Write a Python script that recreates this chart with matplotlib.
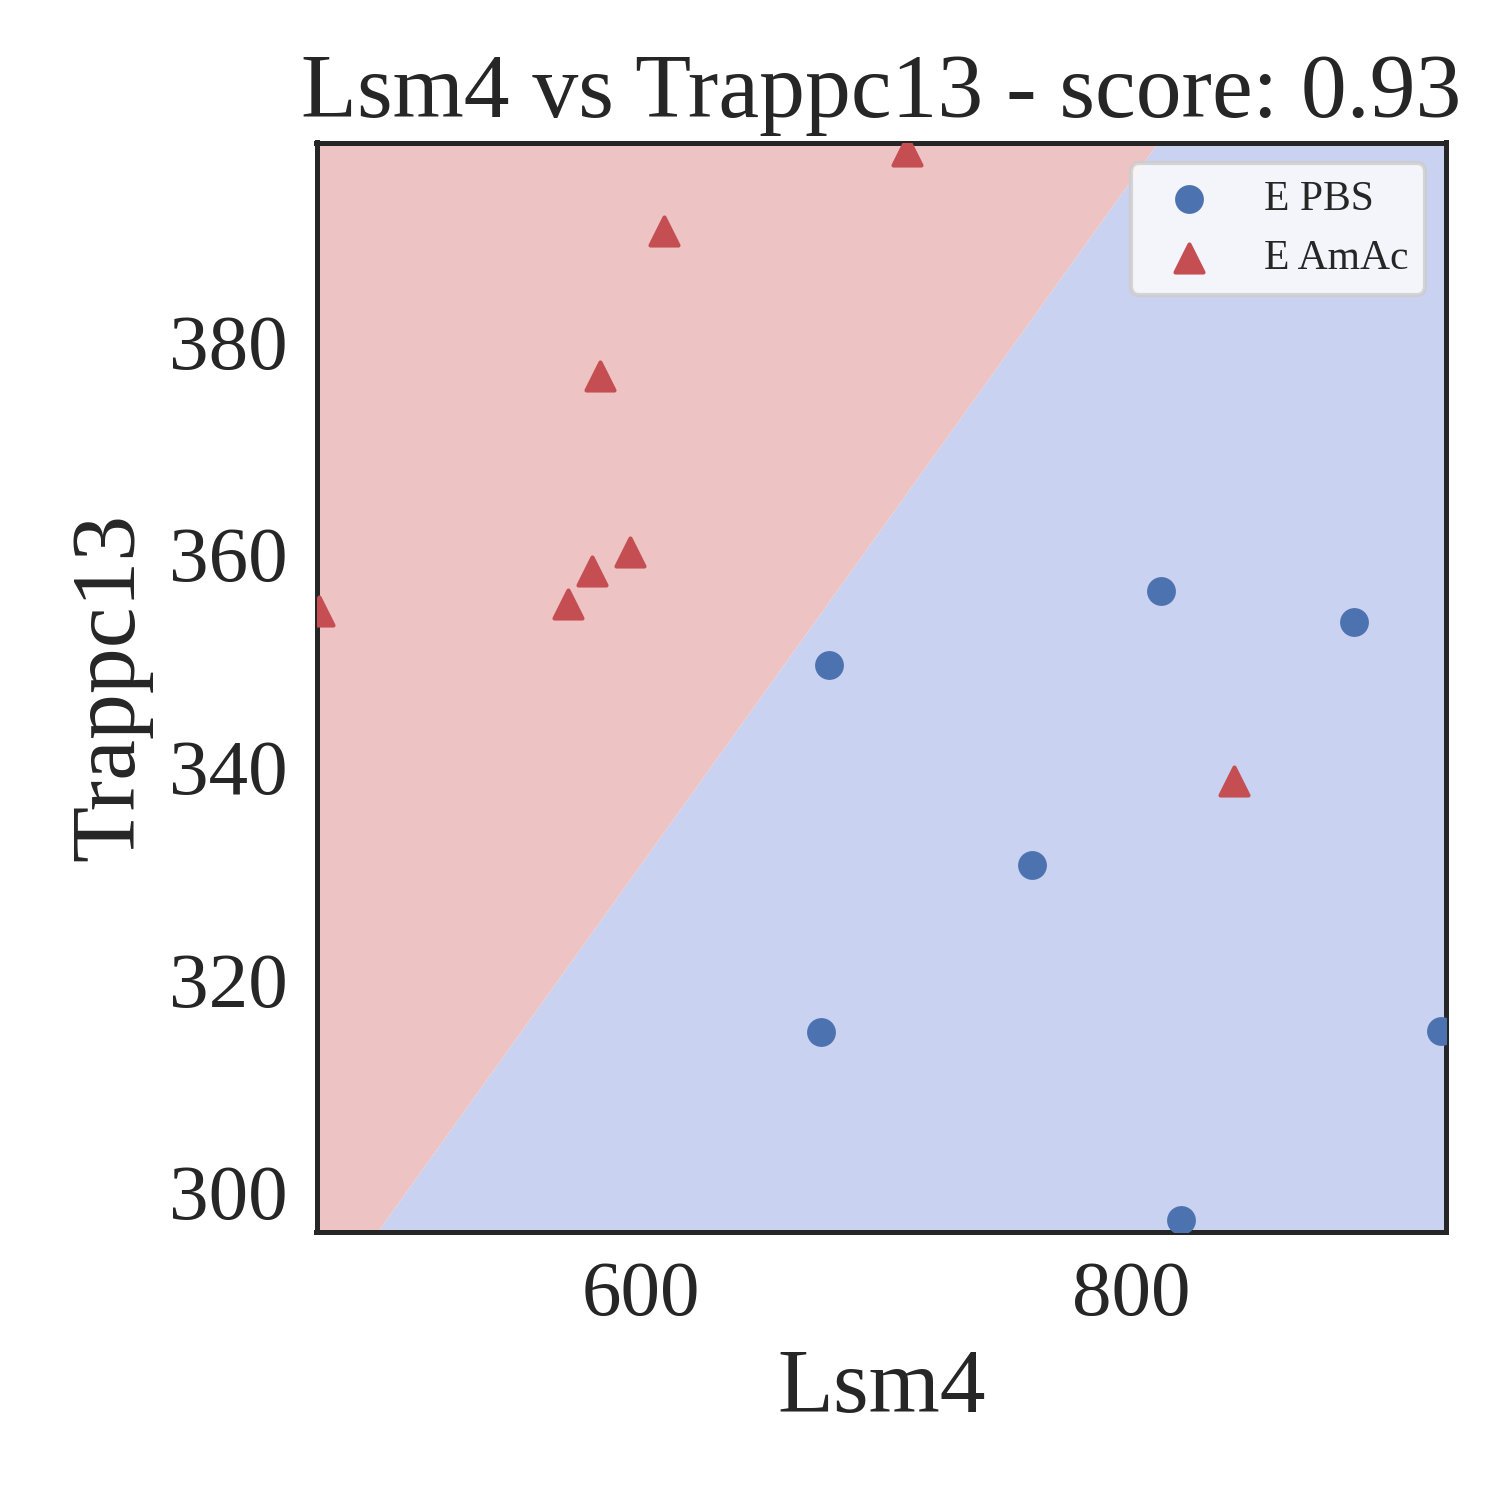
import numpy as np
import matplotlib
matplotlib.use("Agg")
import matplotlib.pyplot as plt
import seaborn as sns

sns.set_style("white")
plt.rcParams['font.family'] = ['Liberation Serif', 'DejaVu Serif']

# points
pbs_x = [676.6, 811.8, 890.4, 759.3, 673.3, 925.9, 820.0]
pbs_y = [349.6, 356.5, 353.6, 330.8, 315.1, 315.2, 297.4]
amac_x = [708.4, 609.4, 583.3, 595.5, 580.4, 570.3, 469.2, 841.5]
amac_y = [397.9, 390.4, 376.7, 360.2, 358.4, 355.3, 354.6, 338.7]

# decision boundary end points
bound_x = [492.8, 810.6]
bound_y = [296.3, 398.7]
xlim = (468, 928)
ylim = (296.3, 398.7)

fig, ax = plt.subplots(figsize=(5, 5), dpi=300)
xs = np.linspace(xlim[0], xlim[1], 200)
slope = (bound_y[1] - bound_y[0]) / (bound_x[1] - bound_x[0])
line = bound_y[0] + slope * (xs - bound_x[0])
line = np.clip(line, ylim[0], ylim[1])
ax.fill_between(xs, ylim[0], line, color='#c9d2f0', lw=0)
ax.fill_between(xs, line, ylim[1], color='#edc4c3', lw=0)

ax.scatter(pbs_x, pbs_y, marker='o', color='#4c72b0', s=35, label='E PBS', zorder=3)
ax.scatter(amac_x, amac_y, marker='^', color='#c44e52', s=45, label='E AmAc', zorder=3)

ax.set_xlim(*xlim)
ax.set_ylim(*ylim)
ax.set_xticks([600, 800])
ax.set_yticks([300, 320, 340, 360, 380])
ax.tick_params(labelsize=19)
ax.set_xlabel('Lsm4', fontsize=22)
ax.set_ylabel('Trappc13', fontsize=22)
ax.set_title('Lsm4 vs Trappc13 - score: 0.93', fontsize=22)
for s in ax.spines.values():
    s.set_color('#262626')
    s.set_linewidth(1.2)
ax.legend(loc='upper right', fontsize=10, frameon=True)

fig.subplots_adjust(left=0.211, right=0.964, bottom=0.179, top=0.905)
plt.savefig('out.png', dpi=300)
